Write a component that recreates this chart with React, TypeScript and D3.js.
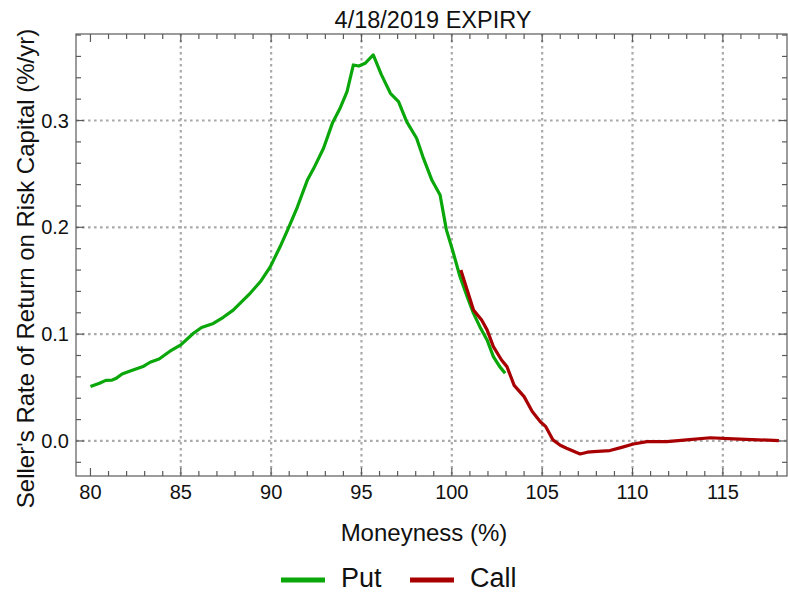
import { useRef, useEffect } from "react";
import * as d3 from "d3";

const putMoneyness = [
  80.0, 80.5, 80.85, 81.2, 81.4, 81.75, 82.2, 82.95, 83.3, 83.8, 84.4, 85.0,
  85.7, 86.15, 86.8, 87.35, 87.9, 88.5, 88.85, 89.4, 89.95, 90.5, 90.95, 91.45,
  92.0, 92.35, 92.9, 93.4, 93.8, 94.2, 94.55, 94.85, 95.2, 95.65, 96.1, 96.6,
  97.05, 97.5, 98.05, 98.4, 98.9, 99.35, 99.7, 100.05, 100.45, 100.85, 101.2,
  101.55, 101.95, 102.3, 102.65, 102.95,
];
const putReturn = [
  0.051, 0.054, 0.0567, 0.057, 0.0584, 0.0627, 0.0655, 0.07, 0.0737, 0.0768,
  0.084, 0.0899, 0.1008, 0.1062, 0.11, 0.1158, 0.1225, 0.1325, 0.1385, 0.149,
  0.163, 0.182, 0.199, 0.219, 0.244, 0.255, 0.274, 0.298, 0.311, 0.327, 0.352,
  0.351, 0.3536, 0.3614, 0.343, 0.3255, 0.3177, 0.299, 0.2834, 0.266, 0.244,
  0.2303, 0.1976, 0.178, 0.154, 0.135, 0.1195, 0.107, 0.0946, 0.079, 0.0696,
  0.0634,
];

const callMoneyness = [
  100.5, 100.85, 101.2, 101.65, 101.95, 102.3, 102.75, 103.05, 103.45, 104.0,
  104.45, 104.9, 105.2, 105.6, 106.0, 106.35, 107.1, 107.5, 107.85, 108.3,
  108.75, 109.4, 110.05, 110.8, 111.9, 113.0, 114.3, 115.6, 118.1,
];
const callReturn = [
  0.16, 0.1414, 0.1227, 0.1133, 0.104, 0.0883, 0.0758, 0.0696, 0.052, 0.0415,
  0.0275, 0.018, 0.0134, 0.001, -0.004, -0.0068, -0.0122, -0.0105, -0.01,
  -0.0095, -0.009, -0.006, -0.0028, -0.0006, -0.0006, 0.001, 0.003, 0.002,
  0.0003,
];

const xMajor = [80, 85, 90, 95, 100, 105, 110, 115];
const yMajor = [0.0, 0.1, 0.2, 0.3];

const PUT_COLOR = "#0aa70a";
const CALL_COLOR = "#a80000";

export default function App() {
  const svgRef = useRef<SVGSVGElement>(null);

  useEffect(() => {
    const svg = d3.select(svgRef.current);
    svg.selectAll("*").remove();

    const left = 76, right = 787, top = 34, bottom = 476;
    const font = "Liberation Sans, Arial, sans-serif";

    const x = d3.scaleLinear().domain([79.2, 118.55]).range([left, right]);
    const y = d3.scaleLinear().domain([-0.0328, 0.381]).range([bottom, top]);

    // Grid lines (dotted)
    const grid = svg.append("g")
      .attr("stroke", "#aaaaaa")
      .attr("stroke-width", 2.2)
      .attr("stroke-dasharray", "2.6,3.4");
    grid.selectAll("line.vx")
      .data(xMajor.filter((d) => d > 80))
      .join("line")
      .attr("x1", (d) => x(d)).attr("x2", (d) => x(d))
      .attr("y1", top).attr("y2", bottom);
    grid.selectAll("line.hy")
      .data(yMajor)
      .join("line")
      .attr("class", "hy")
      .attr("x1", left).attr("x2", right)
      .attr("y1", (d) => y(d)).attr("y2", (d) => y(d));

    // Curves
    const line = d3.line<[number, number]>()
      .x((d) => x(d[0]))
      .y((d) => y(d[1]));
    const putPts = putMoneyness.map((m, i) => [m, putReturn[i]] as [number, number]);
    const callPts = callMoneyness.map((m, i) => [m, callReturn[i]] as [number, number]);

    svg.append("path")
      .attr("d", line(putPts))
      .attr("fill", "none")
      .attr("stroke", PUT_COLOR)
      .attr("stroke-width", 3.2)
      .attr("stroke-linejoin", "round");
    svg.append("path")
      .attr("d", line(callPts))
      .attr("fill", "none")
      .attr("stroke", CALL_COLOR)
      .attr("stroke-width", 3.2)
      .attr("stroke-linejoin", "round");

    // Frame + ticks
    const frame = svg.append("g").attr("stroke", "#5a5a5a").attr("stroke-width", 1.2);
    frame.append("rect")
      .attr("x", left).attr("y", top)
      .attr("width", right - left).attr("height", bottom - top)
      .attr("fill", "none");

    const xTicks = d3.range(80, 119, 1);
    const yTicks = d3.range(-0.02, 0.381, 0.02).map((v) => Math.round(v * 100) / 100);
    const isMajX = (d: number) => d % 5 === 0;
    const isMajY = (d: number) => Math.abs(Math.round(d * 10) - d * 10) < 1e-6;

    xTicks.forEach((d) => {
      const len = isMajX(d) ? 8 : 5;
      frame.append("line").attr("x1", x(d)).attr("x2", x(d)).attr("y1", bottom).attr("y2", bottom - len);
      frame.append("line").attr("x1", x(d)).attr("x2", x(d)).attr("y1", top).attr("y2", top + len);
    });
    yTicks.forEach((d) => {
      const len = isMajY(d) ? 8 : 5;
      frame.append("line").attr("x1", left).attr("x2", left + len).attr("y1", y(d)).attr("y2", y(d));
      frame.append("line").attr("x1", right).attr("x2", right - len).attr("y1", y(d)).attr("y2", y(d));
    });

    // Tick labels
    svg.selectAll("text.xl")
      .data(xMajor)
      .join("text")
      .attr("class", "xl")
      .attr("x", (d) => x(d))
      .attr("y", 499)
      .attr("text-anchor", "middle")
      .attr("font-family", font)
      .attr("font-size", 20)
      .attr("fill", "#111")
      .text((d) => d);
    svg.selectAll("text.yl")
      .data(yMajor)
      .join("text")
      .attr("class", "yl")
      .attr("x", 69)
      .attr("y", (d) => y(d) + 7)
      .attr("text-anchor", "end")
      .attr("font-family", font)
      .attr("font-size", 20)
      .attr("fill", "#111")
      .text((d) => d.toFixed(1));

    // Titles
    svg.append("text")
      .attr("x", 433).attr("y", 28)
      .attr("text-anchor", "middle")
      .attr("font-family", font).attr("font-size", 23.5)
      .attr("fill", "#111")
      .text("4/18/2019 EXPIRY");
    svg.append("text")
      .attr("x", 424).attr("y", 541)
      .attr("text-anchor", "middle")
      .attr("font-family", font).attr("font-size", 24)
      .attr("fill", "#111")
      .text("Moneyness (%)");
    svg.append("text")
      .attr("transform", `translate(34,${(509 + 28) / 2}) rotate(-90)`)
      .attr("text-anchor", "middle")
      .attr("font-family", font).attr("font-size", 24)
      .attr("fill", "#111")
      .text("Seller's Rate of Return on Risk Capital (%/yr)");

    // Legend
    const legend = [
      { label: "Put", color: PUT_COLOR, x0: 281, tx: 341 },
      { label: "Call", color: CALL_COLOR, x0: 410, tx: 470 },
    ];
    legend.forEach((l) => {
      svg.append("line")
        .attr("x1", l.x0).attr("x2", l.x0 + 44)
        .attr("y1", 580).attr("y2", 580)
        .attr("stroke", l.color).attr("stroke-width", 5);
      svg.append("text")
        .attr("x", l.tx).attr("y", 587)
        .attr("font-family", font).attr("font-size", 27)
        .attr("fill", "#111")
        .text(l.label);
    });
  }, []);

  return (
    <svg
      ref={svgRef}
      width={788}
      height={592}
      style={{ position: "absolute", left: 0, top: 0, background: "#fff" }}
    />
  );
}
